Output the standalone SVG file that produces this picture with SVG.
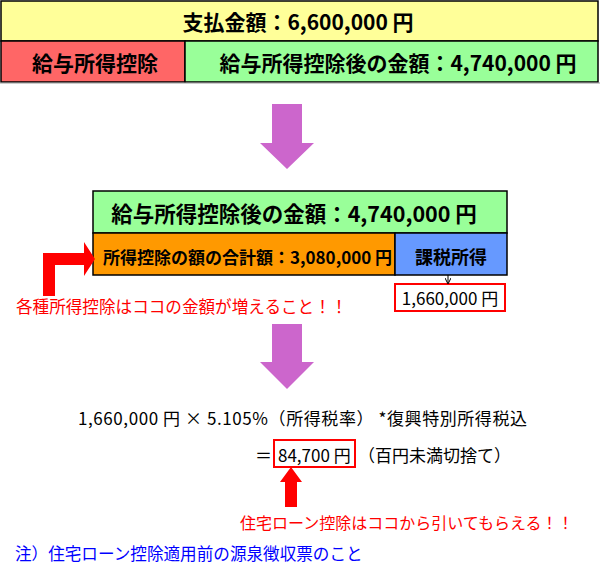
<svg xmlns="http://www.w3.org/2000/svg" width="600" height="566" viewBox="0 0 600 566">
<defs>
<style>
text{font-family:"Noto Sans CJK JP","Noto Sans",sans-serif;dominant-baseline:central}
.b{font-weight:bold;fill:#000}
.n{fill:#000}
.box{stroke:#000;stroke-width:1.5}
.red{fill:#FF0000}
.blue{fill:#0000FF}
</style>
<marker id="ah" markerWidth="6" markerHeight="6" refX="5" refY="3" orient="auto" markerUnits="userSpaceOnUse">
<path d="M0,0 L6,3 L0,6" fill="none" stroke="#000" stroke-width="1"/>
</marker>
</defs>
<rect width="600" height="566" fill="#fff"/>
<g id="payment">
<rect class="box" x="1" y="1" width="597" height="40" fill="#FFFF99"/>
<text class="b" x="298" y="21" font-size="21" text-anchor="middle">支払金額：6,600,000 円</text>
</g>
<g id="salary-deduction">
<rect class="box" x="1" y="41" width="184" height="41" fill="#FF6666"/>
<text class="b" x="95" y="62" font-size="21" text-anchor="middle">給与所得控除</text>
</g>
<g id="after-deduction-top">
<rect class="box" x="185" y="41" width="413" height="41" fill="#99FF99"/>
<text class="b" x="398" y="62" font-size="21" text-anchor="middle">給与所得控除後の金額：4,740,000 円</text>
</g>
<line x1="0" y1="83" x2="600" y2="83" stroke="#999" stroke-width="1"/>
<g id="after-deduction">
<rect class="box" x="93" y="191" width="414" height="42" fill="#99FF99"/>
<text class="b" x="294" y="212" font-size="21.5" text-anchor="middle">給与所得控除後の金額：4,740,000 円</text>
</g>
<g id="deduction-total">
<rect class="box" x="93" y="233" width="302" height="42" fill="#FF9900"/>
<text class="b" x="103" y="256" font-size="17">所得控除の額の合計額：3,080,000 円</text>
</g>
<g id="taxable-income">
<rect class="box" x="395" y="233" width="112" height="42" fill="#6699FF"/>
<text class="b" x="451" y="256" font-size="18" text-anchor="middle">課税所得</text>
</g>
<g id="taxable-amount">
<rect x="395" y="284" width="110" height="27" fill="#fff" stroke="#FF0000" stroke-width="2"/>
<text class="n" x="450" y="297" font-size="17" text-anchor="middle">1,660,000 円</text>
</g>
<g id="note-deductions">
<text class="red" x="16" y="306" font-size="16.6">各種所得控除はココの金額が増えること！！</text>
</g>
<g id="calculation">
<text class="n" x="78" y="417" font-size="17" textLength="449" lengthAdjust="spacing">1,660,000 円 × 5.105%（所得税率） *復興特別所得税込</text>
<text class="n" x="255" y="454" font-size="17">＝</text>
<rect x="274" y="440" width="81" height="27" fill="none" stroke="#FF0000" stroke-width="2"/>
<text class="n" x="278" y="454" font-size="17">84,700 円</text>
<text class="n" x="358" y="454" font-size="17">（百円未満切捨て）</text>
</g>
<g id="note-housing">
<text class="red" x="240" y="522" font-size="16">住宅ローン控除はココから引いてもらえる！！</text>
</g>
<g id="footnote">
<text class="blue" x="15" y="553" font-size="16.6">注）住宅ローン控除適用前の源泉徴収票のこと</text>
</g>
<g id="connectors">
<polygon points="272,104 302,104 302,143 314,143 287,169 260,143 272,143" fill="#CC66CC"/>
<polygon points="272,324 302,324 302,362 314,362 287,389 260,362 272,362" fill="#CC66CC"/>
<polygon points="43,296 43,253 84,253 84,242 95,259 84,276 84,265 55,265 55,296" fill="#FF0000"/>
<polygon points="291,467 302,482 297,482 297,507 285,507 285,482 280,482" fill="#FF0000"/>
<line x1="448" y1="275" x2="448" y2="283" stroke="#000" stroke-width="1" marker-end="url(#ah)"/>
</g>
</svg>
